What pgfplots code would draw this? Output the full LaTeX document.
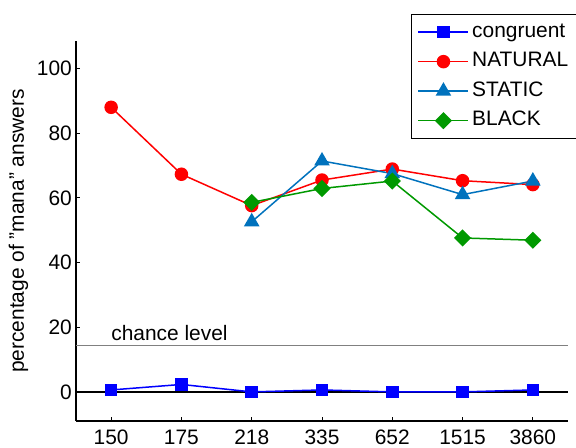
\documentclass[border=0pt]{standalone}
\usepackage{fontspec}
\setmainfont{Liberation Sans}
\usepackage{pgfplots}
\pgfplotsset{compat=1.18}
\definecolor{cblue}{rgb}{0,0,1}
\definecolor{cred}{rgb}{1,0,0}
\definecolor{cstatic}{rgb}{0,0.447,0.741}
\definecolor{cgreen}{rgb}{0,0.6,0}
\begin{document}
\begin{tikzpicture}
\begin{axis}[
  at={(0,0)}, anchor=south west,
  scale only axis, width=492bp, height=380bp,
  xmin=0.5, xmax=7.5, ymin=-9, ymax=108.5,
  axis x line=bottom, axis y line=left,
  axis line style={-, line width=1.5bp, black},
  xtick={1,2,3,4,5,6,7}, xticklabels={150,175,218,335,652,1515,3860},
  ytick={0,20,40,60,80,100},
  tick align=inside, major tick length=4bp,
  tick style={black, line width=1bp},
  font=\fontsize{21}{25}\selectfont,
  tick label style={font=\fontsize{21}{25}\selectfont},
  /pgf/number format/assume math mode=true,
  x tick label style={anchor=north, inner sep=0pt, yshift=-9bp},
  y tick label style={anchor=east, inner sep=0pt, xshift=-4bp},
  ylabel={percentage of "mana" answers},
  every axis y label/.style={at={(axis description cs:-0.1169,0.5)}, rotate=90, anchor=center, font=\fontsize{21}{25}\selectfont},
  legend style={at={(rel axis cs:0.681,1.0717)}, anchor=north west, draw=black, line width=1.3bp,
    font=\fontsize{21}{25}\selectfont, inner sep=6bp, row sep=6bp, column sep=1bp,
    nodes={inner sep=2bp, text height=15bp, text depth=4.5bp, anchor=west}},
  legend cell align=left,
  legend image code/.code={\draw[mark repeat=2, mark phase=2, #1] plot coordinates {(0bp,0bp) (25bp,0bp) (50bp,0bp)};},
]
\addplot[black, line width=1.6bp, forget plot] coordinates {(0.5,0) (7.5,0)};
\addplot[black!50, line width=1.6bp, forget plot] coordinates {(0.5,14.2857) (7.5,14.2857)};
\addplot[cblue, line width=1.5bp, mark=square*, mark size=5.5bp, mark options={solid, fill=cblue}]
  coordinates {(1,0.6) (2,2.3) (3,0) (4,0.6) (5,0) (6,0) (7,0.6)};
\addlegendentry{congruent}
\addplot[cred, line width=1.5bp, mark=*, mark size=6bp, mark options={solid, fill=cred}]
  coordinates {(1,88.0) (2,67.3) (3,57.6) (4,65.5) (5,68.9) (6,65.3) (7,64.1)};
\addlegendentry{NATURAL}
\addplot[cstatic, line width=1.5bp, mark=triangle*, mark size=7.5bp, mark options={solid, fill=cstatic}]
  coordinates {(3,52.6) (4,71.4) (5,67.5) (6,61.0) (7,65.2)};
\addlegendentry{STATIC}
\addplot[cgreen, line width=1.5bp, mark=square*, mark size=5.3bp, mark options={solid, fill=cgreen, rotate=45}]
  coordinates {(3,58.6) (4,62.9) (5,65.2) (6,47.6) (7,46.9)};
\addlegendentry{BLACK}
\node[anchor=base west, inner sep=0pt] at (axis cs:1,16.0) {chance level};
\end{axis}
\pgfresetboundingbox
\useasboundingbox (-76bp,-27bp) rectangle (500bp,421bp);
\end{tikzpicture}
\end{document}
